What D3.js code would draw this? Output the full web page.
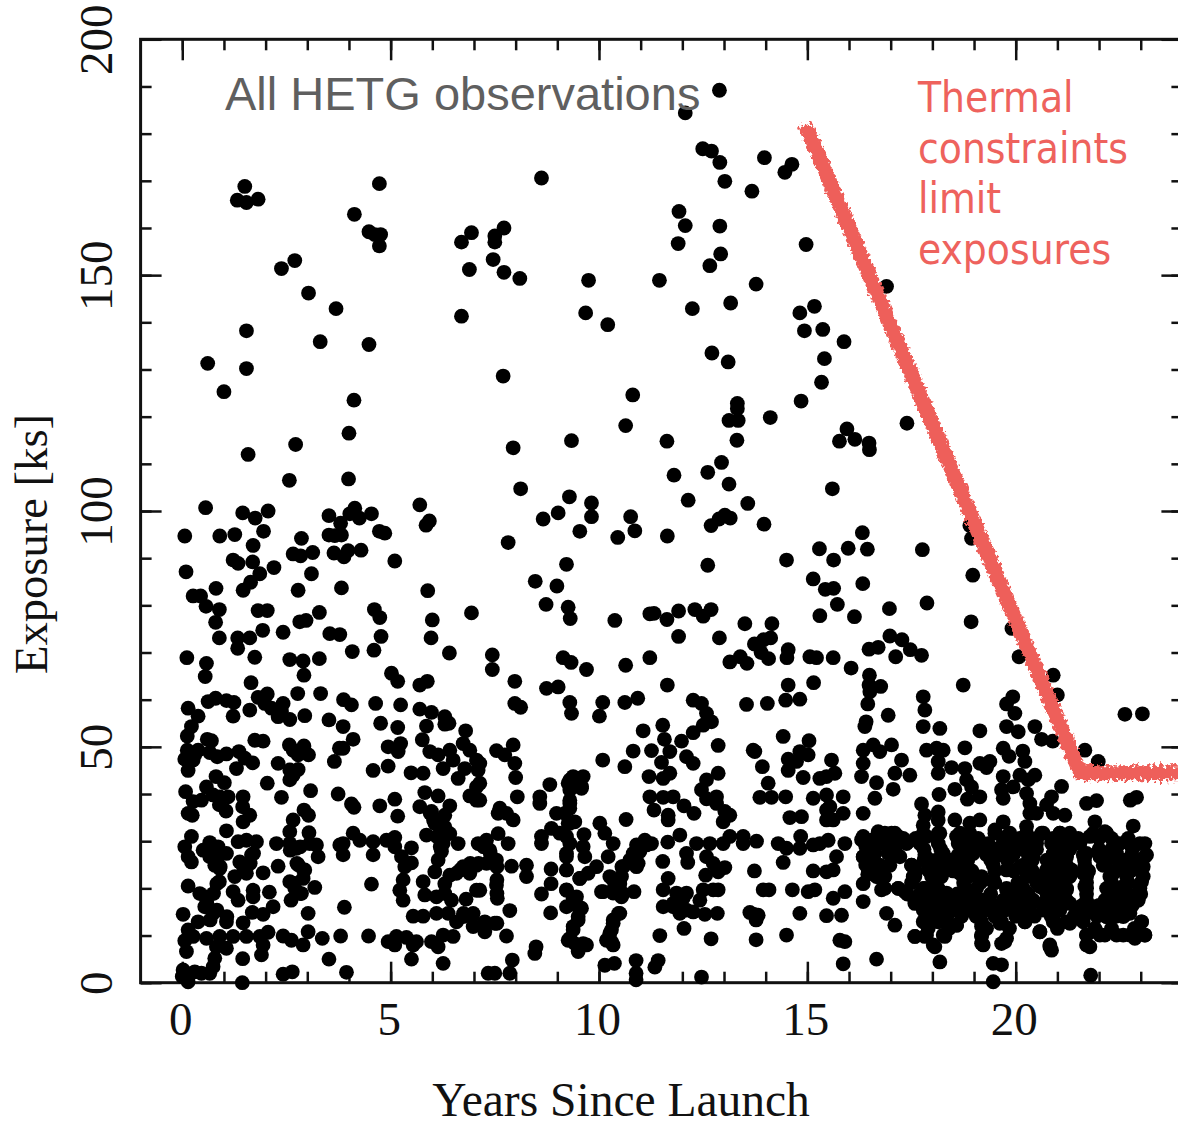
<!DOCTYPE html>
<html>
<head>
<meta charset="utf-8">
<style>
html, body { margin: 0; padding: 0; background: #fff; }
svg { display: block; }
.serif { font-family: "Liberation Serif", serif; fill: #111; }
.axis .domain { display: none; }
.axis line { stroke: #111; stroke-width: 2.5px; }
.axis text { font-family: "Liberation Serif", serif; font-size: 47px; fill: #111; }
</style>
</head>
<body>
<div class="chart"></div>
<script src="https://d3js.org/d3.v7.min.js"></script>
<script>
  // values, one region at a time
  const years = [
    // upper left
    1.50,1.32,1.54,1.82,4.73,4.13,4.48,4.62,4.76,4.73,8.62,6.94,6.70,7.72,7.50,7.50,7.46,6.89,7.72,8.10,
    9.75,9.68,10.21,6.70,2.70,2.38,3.03,3.69,1.54,3.31,4.48,0.61,1.54,1.00,7.70,10.81,10.64,4.12,4.00,9.34,
    7.94,2.72,1.58,2.57,3.99,8.12,9.29,9.82,9.82,5.70,5.93,5.85,0.56,2.06,1.45,1.75,4.14,4.02,4.25,4.54,
    3.52,3.80,8.66,9.02,10.76,10.86,9.54,10.45,0.06,0.90,1.26,1.95,1.70,2.86,3.52,3.66,3.82,4.73,4.86,7.82,
    2.66,2.84,3.13,3.64,3.88,3.98,4.29,5.10,1.22,1.34,1.69,0.09,2.20,1.86,3.10,9.22,8.47,8.99,0.81,1.64,
    1.46,3.82,2.78,5.89,0.26,0.44,0.57,0.89,0.80,1.82,2.04,3.29,4.61,4.74,2.82,2.97,6.00,1.93,2.42,3.54,
    3.78,0.89,1.33,1.62,4.77,5.97,6.94,8.73,9.26,9.31,10.38,11.22,1.33,4.08,4.60,6.41,7.44,7.44,0.11,0.58,
    0.55,1.74,2.58,2.90,3.29,2.92,9.14,9.33,9.70,10.64,11.22,1.65,5.02,5.17,5.70,5.88,7.98,8.74,9.02,
    // upper right
    12.89,12.07,12.49,12.70,12.90,13.02,13.97,13.67,14.63,14.46,11.92,12.07,11.90,12.90,12.92,12.66,14.97,11.45,13.77,16.90,
    12.24,13.16,14.82,15.17,14.93,15.37,15.88,15.41,15.34,14.85,12.71,13.10,13.32,13.32,13.12,13.34,13.31,14.11,17.39,11.63,
    15.95,15.77,16.14,16.48,16.49,12.94,12.61,11.80,13.12,12.14,13.57,15.60,13.02,12.88,12.69,13.15,13.96,11.64,16.32,15.29,
    15.98,16.44,17.76,18.90,18.94,15.63,12.61,14.50,18.97,15.14,15.43,15.63,16.33,15.72,15.30,16.13,16.97,17.87,18.93,19.91,
    20.08,11.32,11.63,11.91,12.30,12.50,12.69,11.91,12.89,13.50,14.15,14.12,13.95,13.73,14.54,14.51,13.89,14.07,13.39,13.14,
    13.55,15.06,15.22,15.62,16.05,16.48,16.70,16.98,17.27,17.47,17.74,17.12,16.49,20.90,21.00,18.74,11.64,14.54,15.15,16.48,16.76,
    // lower left
    0.14,0.38,0.62,0.80,1.06,1.24,1.22,1.62,1.82,2.04,1.98,2.14,2.30,2.42,2.38,2.58,2.77,3.32,2.94,3.52,
    3.87,4.06,3.86,4.64,5.24,4.76,5.17,5.70,5.98,5.86,6.30,6.30,6.40,6.80,0.22,0.12,0.60,0.70,1.74,1.94,
    4.10,3.86,3.77,2.57,2.92,3.03,2.66,2.78,5.76,4.94,5.24,5.18,0.12,0.38,0.06,0.26,0.14,0.30,0.66,0.84,
    1.06,1.36,1.30,1.50,1.69,2.30,3.65,4.58,4.94,5.49,2.58,2.78,2.66,2.58,5.78,5.94,6.14,6.42,6.74,6.90,
    6.26,6.62,6.78,6.50,7.06,7.10,0.81,1.01,2.04,0.08,0.58,0.74,0.46,0.26,0.90,1.10,0.89,1.05,1.46,1.45,
    1.62,1.46,0.14,0.24,2.38,3.08,3.74,4.06,4.12,4.74,5.10,5.17,5.82,6.14,5.70,5.98,6.42,6.30,6.90,7.06,
    7.06,2.92,3.03,2.66,2.58,3.04,1.06,0.22,0.06,0.14,0.22,0.66,0.50,0.66,0.86,1.06,0.78,0.90,1.34,1.54,
    1.78,1.38,1.66,1.54,1.94,1.26,2.26,2.58,2.74,3.06,3.26,3.22,2.30,2.78,2.94,2.90,2.58,2.70,3.18,2.86,
    2.61,0.14,0.42,0.58,0.89,1.22,1.34,1.70,1.70,2.09,2.18,1.94,1.68,3.02,3.89,0.02,0.54,0.74,1.06,0.38,
    0.14,0.26,1.46,0.06,0.10,0.58,0.90,1.22,1.54,1.86,2.06,2.42,2.62,2.90,3.02,3.36,3.80,4.47,0.82,1.06,
    1.94,1.90,1.45,0.78,0.74,0.66,0.30,0.02,0.00,0.14,0.46,1.44,2.42,2.64,3.52,3.94,4.94,5.14,5.10,5.38,
    5.54,5.62,5.98,6.14,6.26,6.50,5.50,6.26,5.54,5.78,6.10,6.38,6.74,6.98,6.58,6.98,6.81,4.54,5.30,5.22,
    5.30,5.78,5.82,6.10,6.30,6.46,6.30,6.42,6.06,6.14,6.22,5.50,5.50,5.34,5.26,5.10,4.90,4.58,4.58,5.10,
    4.10,3.86,3.78,4.26,3.86,5.86,6.06,6.30,6.42,6.26,6.62,6.74,7.06,6.90,6.58,7.10,7.06,
    // lower middle
    7.98,8.12,9.30,9.34,10.09,10.01,10.62,10.93,12.26,12.46,12.58,12.70,12.50,12.26,13.54,14.04,14.48,14.82,7.54,7.74,
    7.94,7.98,8.00,8.04,7.14,7.14,7.14,8.82,8.58,8.58,9.38,9.62,9.26,9.58,9.30,9.30,8.98,9.26,9.42,10.09,
    10.62,10.82,11.06,11.53,11.57,11.26,11.70,11.50,11.98,12.86,12.10,12.26,11.20,11.54,11.70,12.86,12.58,12.46,12.58,12.82,
    12.82,11.22,11.54,11.78,11.32,11.66,11.66,12.04,12.28,13.02,13.14,12.98,7.78,7.58,7.94,7.62,8.86,8.62,8.62,9.64,
    9.62,9.22,9.22,9.22,9.54,10.02,10.14,10.34,10.22,10.65,10.90,11.10,11.26,10.98,10.90,10.58,7.58,7.30,7.82,7.38,
    7.54,7.30,7.90,8.26,8.26,8.85,8.85,8.62,7.54,7.56,7.14,7.86,8.84,7.26,7.50,7.26,7.78,8.49,8.46,7.92,
    7.86,7.34,7.50,9.66,9.94,9.74,9.22,9.46,9.22,9.58,9.50,9.38,9.26,9.50,9.70,9.42,10.34,10.50,10.06,10.34,
    10.54,10.84,10.54,10.50,10.34,10.30,10.18,10.34,10.14,10.37,10.89,10.89,10.89,11.42,11.34,12.46,11.46,12.69,13.77,14.50,
    12.04,11.65,11.94,11.53,12.10,12.13,12.34,12.66,12.98,13.14,13.46,13.46,13.78,12.58,12.74,13.02,12.86,12.56,11.66,11.54,
    11.86,12.10,11.54,11.78,11.94,12.26,12.54,12.84,12.74,12.86,12.50,12.42,13.72,13.82,13.62,13.77,14.82,15.46,13.73,14.08,
    13.94,14.64,15.02,15.18,15.14,15.46,14.42,14.30,14.50,14.82,14.84,15.14,15.30,15.50,14.42,15.04,13.70,13.74,13.92,14.06,
    13.86,14.14,14.48,15.14,14.54,14.82,15.02,14.74,14.54,14.90,15.30,14.58,14.86,15.46,15.46,15.46,15.46,
    // lower right
    16.50,16.45,17.78,17.82,16.94,16.41,16.38,17.78,19.93,19.78,19.98,19.78,20.06,18.18,18.10,17.86,18.26,19.14,20.46,20.62,
    20.89,22.62,23.04,21.66,21.98,16.58,16.34,16.74,17.02,16.34,16.30,16.66,17.26,17.10,17.46,17.06,16.62,16.34,15.86,15.86,
    15.62,15.58,15.66,15.54,18.14,18.14,18.46,18.78,18.78,18.82,18.94,18.54,18.84,19.14,18.16,19.14,19.38,19.30,19.70,19.84,
    20.17,20.22,20.10,20.46,20.30,19.70,19.66,19.94,19.70,20.26,21.10,20.86,20.74,21.70,21.94,22.75,22.90,17.74,17.82,18.14,
    18.14,18.54,18.90,19.14,20.34,20.34,20.50,20.90,21.18,19.70,19.50,20.26,20.62,21.90,22.14,22.82,17.78,16.34,16.70,17.02,
    17.42,15.90,16.58,16.86,17.18,17.86,18.18,18.58,18.90,19.30,19.78,20.18,20.50,21.06,21.30,21.78,22.18,22.42,22.74,23.10,
    15.70,16.34,16.62,16.94,17.22,17.50,17.94,18.26,18.66,18.98,19.46,19.78,20.10,20.42,20.90,21.22,21.70,22.02,22.42,22.66,
    23.10,15.62,16.58,16.86,17.58,17.90,18.66,18.86,19.18,19.46,19.78,20.34,20.74,21.06,21.34,21.62,22.34,22.78,23.06,16.34,
    15.90,16.78,17.18,17.34,17.78,18.10,18.34,18.82,19.22,19.78,20.10,20.58,20.90,21.22,21.66,22.26,22.58,23.02,22.98,15.62,
    16.34,17.58,17.86,18.18,18.50,18.74,18.98,19.26,19.70,20.02,20.34,20.66,20.98,21.30,21.86,22.22,22.62,22.94,15.82,16.90,
    17.10,17.82,18.10,18.58,19.18,19.62,20.22,20.58,20.94,21.30,21.70,22.18,22.74,23.02,15.78,15.90,17.58,17.82,18.30,18.06,
    19.18,19.22,19.66,19.78,20.82,20.86,21.70,21.78,21.94,22.14,22.58,22.86,23.10,15.86,16.66,18.18,19.46,19.66,19.46,21.80
  ];
  const exposures = [
    // upper left
    168.8,165.9,165.4,166.1,169.4,162.9,159.2,158.6,158.6,156.2,170.6,159.0,157.0,160.0,158.3,157.0,153.3,151.2,150.6,149.3,
    148.9,142.0,139.5,141.3,153.1,151.4,146.2,142.9,138.2,135.9,135.3,131.3,130.2,125.3,128.6,124.6,118.1,123.5,116.5,114.9,
    113.4,114.1,112.0,106.5,106.8,104.7,103.0,101.7,98.8,101.3,97.9,97.0,100.7,100.0,99.6,98.5,100.6,99.4,98.5,99.4,
    99.0,97.4,98.3,99.6,98.8,95.8,95.7,94.4,94.7,94.7,95.0,95.7,92.7,94.2,94.9,94.8,94.9,95.7,95.3,93.3,
    90.9,90.5,91.2,91.1,90.3,91.6,91.7,89.4,89.6,88.9,89.2,87.1,88.0,86.7,86.7,88.7,85.1,84.1,83.6,84.9,
    83.2,83.7,83.2,83.1,82.0,82.0,79.8,79.1,76.4,78.9,78.9,78.5,79.1,77.4,76.5,76.8,76.9,74.7,74.3,74.0,
    73.8,73.1,73.1,73.1,73.4,73.1,78.4,80.2,79.6,77.2,76.8,78.2,70.9,70.2,70.5,69.9,69.5,66.4,68.9,67.7,
    64.9,69.0,68.5,68.2,68.7,65.2,68.9,67.9,66.4,67.3,68.9,63.6,65.6,63.9,63.1,63.9,63.9,62.4,62.7,
    // upper right
    189.2,184.4,176.8,176.3,173.9,169.9,174.9,167.8,173.5,171.8,163.5,160.5,156.7,160.4,154.5,152.0,156.5,148.9,148.1,147.6,
    142.9,144.1,142.0,143.4,138.2,138.5,135.9,132.3,127.3,123.3,133.5,131.6,122.8,121.7,119.2,119.2,115.0,119.8,118.6,114.8,
    117.4,114.8,115.2,114.4,113.0,110.3,108.2,107.6,105.7,102.3,101.6,104.7,99.1,98.3,96.9,98.5,97.2,94.7,95.4,92.0,
    92.1,91.9,91.8,96.9,94.2,89.6,88.5,89.6,86.4,85.6,83.4,83.6,84.6,80.2,77.8,77.6,79.3,80.5,76.5,75.1,
    69.1,78.3,77.0,78.8,79.1,77.7,79.1,73.4,73.1,76.1,76.1,73.1,72.7,71.8,70.6,68.9,70.0,68.7,69.1,68.0,
    67.7,69.1,68.9,68.9,66.7,70.7,71.1,73.5,72.7,70.6,69.4,69.1,65.2,65.2,61.0,63.1,63.1,63.1,63.6,63.1,62.8,
    // lower left
    58.2,56.5,59.6,60.3,59.8,59.4,56.5,57.8,60.5,61.2,59.2,58.2,56.4,59.2,57.5,55.8,61.3,61.3,56.6,55.7,
    60.0,58.9,54.3,59.2,58.9,55.0,54.1,58.0,57.3,54.4,56.4,54.8,55.0,53.4,54.3,52.3,51.6,51.3,51.4,51.2,
    51.6,49.7,49.7,50.4,50.2,48.3,49.3,48.3,51.5,50.0,50.7,49.0,49.3,49.3,47.4,47.2,45.0,48.3,48.8,47.9,
    48.5,49.0,45.4,47.6,46.6,46.5,46.9,45.0,45.9,44.5,45.1,45.2,44.0,43.0,44.4,49.0,48.3,49.3,50.7,49.3,
    45.4,43.3,45.4,47.2,47.2,45.1,43.7,42.4,42.3,40.5,41.5,39.8,38.7,38.4,39.4,39.4,37.7,36.4,39.4,37.3,
    35.5,34.1,35.9,35.5,39.3,40.7,40.0,37.9,37.2,37.5,38.9,35.3,40.3,39.6,37.3,36.3,37.5,35.5,39.6,41.5,
    38.7,36.6,35.5,34.5,32.0,31.8,32.2,31.0,28.8,26.7,25.6,29.7,28.1,26.7,28.8,27.4,24.9,24.2,29.9,30.2,
    29.9,25.6,27.1,23.2,23.3,22.5,29.5,29.5,28.5,29.5,26.7,29.2,24.7,25.0,23.9,22.1,21.4,20.0,20.2,18.9,
    17.5,20.5,18.9,18.2,21.4,19.3,17.5,19.6,18.2,19.2,16.1,14.5,14.9,14.7,16.0,14.5,16.1,14.7,12.9,12.9,
    11.2,9.8,12.7,8.9,6.6,9.4,9.8,9.8,9.8,9.8,10.7,9.9,9.0,8.0,10.8,9.4,9.9,9.9,7.6,7.3,
    8.0,5.9,5.1,5.2,3.4,2.0,2.3,2.7,1.3,0.2,2.0,0.0,1.8,2.3,5.0,2.2,8.7,9.8,8.0,9.6,
    8.0,8.7,8.7,7.6,10.1,9.8,5.0,4.1,14.1,14.1,14.7,14.7,14.0,14.7,12.9,11.9,17.7,20.9,21.8,19.6,
    17.5,21.4,18.6,18.2,18.9,17.5,21.0,22.8,23.5,26.0,27.8,28.6,25.4,24.6,26.7,28.8,30.2,27.1,29.9,30.8,
    31.7,29.5,29.2,30.2,27.1,31.3,33.8,33.0,31.6,29.5,29.5,24.6,24.9,23.2,23.2,29.5,19.6,
    // lower middle
    59.2,58.4,59.4,57.1,59.4,56.5,59.4,60.3,59.9,59.2,57.1,55.3,54.6,53.0,59.0,59.2,59.9,60.1,49.2,48.3,
    50.4,46.5,43.5,39.4,46.5,42.3,38.7,42.0,39.4,38.0,43.7,43.7,42.3,41.2,38.7,37.0,35.9,33.8,34.1,47.2,
    45.8,49.1,53.4,54.6,51.6,49.2,49.0,46.7,51.2,50.3,47.9,46.5,43.7,43.3,44.4,44.4,43.0,40.9,39.0,39.4,
    38.0,39.4,39.3,39.4,36.6,35.5,34.5,37.5,35.9,36.3,35.5,34.1,35.9,35.9,34.5,37.0,32.7,31.0,29.5,31.4,
    28.8,31.0,27.4,23.9,22.1,33.8,31.7,29.5,26.7,34.6,29.2,30.2,29.5,27.8,24.6,24.6,31.6,30.2,29.5,28.1,
    26.0,25.3,24.7,24.9,22.5,24.1,21.0,18.8,20.7,17.9,19.6,15.3,14.8,12.9,12.6,10.8,9.9,7.6,6.2,4.8,
    2.0,2.0,2.0,26.7,24.6,23.2,19.6,18.2,16.1,15.8,13.3,11.2,9.0,6.6,8.0,8.3,21.8,21.0,19.3,19.0,
    18.2,19.3,22.5,14.7,13.3,11.2,9.0,8.0,3.7,4.1,4.7,2.0,0.6,4.7,3.3,1.2,10.0,9.3,9.1,10.1,
    11.5,29.8,31.3,25.7,27.4,25.5,29.5,29.5,29.5,31.0,31.0,29.5,30.0,26.7,25.3,24.4,23.5,22.8,22.1,19.7,
    19.0,19.0,16.1,16.1,14.7,15.0,14.5,14.7,19.7,19.7,19.7,17.5,14.5,14.3,14.9,13.3,14.7,14.2,23.7,19.7,
    19.7,19.7,19.3,19.7,23.7,23.5,25.5,29.5,28.5,28.5,31.0,29.2,29.5,30.2,52.2,51.3,49.3,49.0,45.8,42.3,
    39.3,39.3,39.4,39.1,47.4,49.0,48.3,46.9,45.0,43.5,43.3,35.0,35.2,43.7,39.8,36.6,34.5,
    // lower right
    61.7,59.1,60.6,57.8,56.7,55.3,54.3,54.3,60.6,59.1,57.1,54.3,53.2,53.9,49.7,49.3,49.3,53.4,54.3,51.6,
    51.2,56.9,57.0,49.3,46.9,50.4,49.3,49.0,50.4,46.5,43.7,42.4,47.2,44.4,44.0,41.0,39.1,35.9,39.4,35.9,
    34.5,47.2,44.4,37.3,46.9,44.4,45.6,49.8,45.4,43.0,41.5,41.0,38.9,39.4,39.9,46.5,46.9,45.6,49.7,48.0,
    49.1,46.9,44.0,44.0,43.0,43.7,40.9,41.5,39.1,40.1,41.6,39.4,37.7,38.0,38.6,38.7,39.3,37.9,35.5,36.2,
    34.5,34.5,33.8,34.5,38.0,35.9,35.9,35.9,35.5,34.1,32.4,33.1,31.7,34.1,32.0,33.2,33.4,31.0,32.0,31.7,
    29.9,29.5,30.2,30.2,31.0,31.0,31.7,31.0,29.5,28.8,31.0,30.2,29.5,31.7,31.0,31.0,31.7,29.5,29.5,29.5,
    26.7,26.7,27.4,27.4,26.7,24.9,26.0,27.4,26.7,27.4,26.7,27.4,24.6,26.7,27.4,26.7,27.4,26.7,27.4,26.0,
    26.7,23.9,23.9,22.5,22.5,23.9,23.2,22.5,22.5,21.8,23.9,23.9,23.9,22.5,23.9,23.2,23.2,23.9,24.6,21.0,
    19.3,19.7,20.0,19.3,20.0,20.4,19.0,19.7,17.5,19.7,19.0,20.4,20.4,19.7,20.4,19.7,20.4,21.4,19.0,17.9,
    17.2,16.8,16.1,16.8,17.5,16.1,15.4,15.4,16.1,16.8,16.1,16.8,16.1,16.8,16.1,16.8,16.8,17.5,14.3,14.7,
    12.2,13.3,14.0,12.2,11.9,12.6,12.9,10.8,12.9,12.6,14.7,14.0,14.7,12.9,9.0,8.7,9.8,9.8,9.8,7.6,
    9.8,8.0,8.3,9.4,7.6,6.9,10.1,7.6,10.8,10.1,10.1,9.4,10.1,4.0,5.0,4.4,4.1,3.8,0.2,1.6
  ];

  // second pass over the crowded parts, each line has the same count in both arrays
  const crowdedYears = [
    16.86,17.10,17.78,18.14,18.66,18.90,19.50,19.86,20.26,20.66,21.06,21.30,21.86,22.18,
    16.74,16.98,17.38,17.70,18.14,18.62,18.86,19.34,19.70,20.02,20.30,20.86,21.18,21.54,22.50,22.98,
    17.06,17.82,18.22,18.62,18.90,19.30,19.62,19.94,20.30,20.90,21.22,21.62,22.02,22.34,22.78,23.14,
    16.74,16.98,17.50,17.94,18.26,18.66,19.46,20.18,20.94,21.22,21.66,22.10,22.50,22.90,
    17.54,17.98,18.22,18.74,19.06,19.46,20.26,20.58,20.98,21.30,21.70,22.26,22.66,23.06,
    16.86,17.18,17.82,18.14,18.78,19.06,19.78,20.18,20.66,20.86,21.22,21.70,22.18,22.58,22.98,
    17.58,17.86,18.18,18.46,18.78,19.22,19.70,20.06,20.42,20.90,21.22,21.70,22.14,22.50,22.90,
    17.78,18.18,18.54,18.86,19.30,19.74,20.18,20.66,21.06,21.46,21.78,22.18,22.58,
    17.78,18.14,18.58,19.18,19.66,20.22,20.90,21.22,21.62,22.18,22.58,23.02,
    17.58,17.86,18.26,19.18,19.74,20.58,21.70,22.02,22.42,22.74,23.10,
    18.02,19.18,20.82,21.70,
    16.40,16.60,16.40,16.62,16.45,16.70,
    9.30,9.46,9.58,9.30,9.30,9.18,9.30,9.06,9.30,9.22,9.22,9.54,9.22,9.38,9.50,9.50,9.38,9.30,9.62,
    10.26,10.50,10.10,10.34,10.58,10.47,10.34,10.26,10.30,10.55,10.82,10.98,10.74,10.94,11.14,
    11.78,11.94,12.10,12.02,16.30,16.58,16.58,16.46,16.66,16.34,
    2.59,2.83,2.75,2.91,2.67,2.83,7.23,7.39,7.55,7.55,7.55,6.91,6.67,7.11,
    0.83,0.91,0.75,1.63,1.71,1.47,0.83,1.07,0.67,0.59,0.83,0.75,
    6.75,6.95,7.23,7.55,6.03,6.19,5.95,6.11,6.19,
    17.30,17.60,18.70,19.10,19.70,20.10,20.50,20.90,21.50,22.00,22.30,22.70,
    17.10,17.80,18.20,18.70,19.10,19.50,19.80,20.10,20.50,21.10,21.30,22.00,22.30,22.80,
    17.80,18.10,18.45,18.85,19.40,19.80,20.40,20.75,21.10,21.65,22.20,22.55,22.90,
    17.60,18.10,18.50,18.95,19.50,19.95,20.40,20.80,21.15,21.75,22.40,22.75,
    17.50,18.05,18.75,19.15,19.50,20.05,20.50,20.85,21.15,21.70,22.30,22.70,
    17.40,17.70,18.05,18.60,18.95,19.40,19.90,20.30,20.75,21.10,21.70,22.30,22.70,23.00,
    18.00,18.35,18.65,19.05,19.50,19.95,20.30,20.80,21.10,21.60,22.00,22.40,22.80,
    17.95,18.35,18.70,19.05,19.50,20.00,20.45,20.85,21.40,21.95,22.40,
    17.90,18.40,19.30,19.85,21.00,21.90,22.30,22.85
  ];
  const crowdedExposures = [
    31.7,31.7,31.7,31.7,31.7,31.7,31.7,31.7,31.7,31.7,31.7,31.7,31.7,31.7,
    29.5,29.5,29.5,29.5,29.5,29.5,29.5,29.5,29.5,29.5,29.5,29.5,29.5,29.5,29.5,29.5,
    27.1,27.1,27.1,27.1,27.1,27.1,27.1,27.1,27.1,27.1,27.1,27.1,27.1,27.1,27.1,27.1,
    24.9,24.9,24.9,24.9,24.9,24.9,24.9,24.9,24.9,24.9,24.9,24.9,24.9,24.9,
    22.5,22.5,22.5,22.5,22.5,21.4,22.5,22.5,22.5,22.5,22.5,22.5,22.5,22.5,
    20.0,20.0,20.0,20.0,20.0,20.0,20.0,20.0,20.0,20.0,20.0,20.0,20.0,20.0,20.0,
    17.5,17.5,17.5,17.5,17.5,17.5,17.5,17.5,17.5,17.5,17.5,17.5,17.5,17.5,17.5,
    15.4,15.4,15.4,15.4,15.4,15.4,15.4,15.4,15.4,15.4,15.4,15.4,15.4,
    12.9,12.9,12.2,12.9,12.9,12.9,12.9,12.9,12.9,14.0,14.0,12.9,
    9.8,10.1,10.1,10.1,8.7,10.8,10.1,10.1,10.1,10.1,10.1,
    8.0,8.3,8.0,8.0,
    29.0,28.0,25.0,25.5,23.0,22.5,
    43.0,43.0,41.6,40.9,38.0,35.9,33.8,31.7,29.5,26.7,23.9,22.1,19.7,17.9,16.1,14.0,11.9,9.4,8.3,
    22.5,21.8,19.3,19.7,18.9,14.7,12.6,10.5,8.7,24.6,27.4,28.1,26.0,25.3,29.2,
    16.8,15.4,15.4,17.9,30.3,30.3,26.7,23.9,22.5,26.7,
    28.1,28.8,25.3,23.9,21.1,18.9,28.8,27.4,24.6,21.8,18.9,25.3,23.9,25.3,
    26.0,24.6,28.1,25.3,27.4,24.6,15.4,14.0,13.3,16.8,21.0,18.9,
    14.7,14.0,11.9,12.6,34.5,33.1,35.9,31.0,28.8,
    30.6,30.6,30.6,30.6,30.6,30.6,30.6,30.6,30.6,30.6,30.6,30.6,
    28.3,28.3,28.3,28.3,28.3,28.3,28.3,28.3,28.3,28.3,28.3,28.3,28.3,28.3,
    26.0,26.0,26.0,26.0,26.0,26.0,26.0,26.0,26.0,26.0,26.0,26.0,26.0,
    23.7,23.7,23.7,23.7,23.7,23.7,23.7,23.7,23.7,23.7,23.7,23.7,
    21.2,21.2,21.2,21.2,21.2,21.2,21.2,21.2,21.2,21.2,21.2,21.2,
    18.8,18.8,18.8,18.8,18.8,18.8,18.8,18.8,18.8,18.8,18.8,18.8,18.8,18.8,
    16.4,16.4,16.4,16.4,16.4,16.4,16.4,16.4,16.4,16.4,16.4,16.4,16.4,
    14.1,14.1,14.1,14.1,14.1,14.1,14.1,14.1,14.1,14.1,14.1,
    11.5,11.5,11.5,11.5,11.5,11.5,11.5,11.5
  ];

  // thermal limit drawn in red
  const limitYears = [14.96, 21.55, 24];
  const limitExposures = [181.8, 44.5, 44.5];

  const xMajorTicks = [0, 5, 10, 15, 20];
  const xMinorTicks = d3.range(0, 24);
  const yMajorTicks = [0, 50, 100, 150, 200];
  const yMinorTicks = d3.range(0, 200, 10);
  const noteLines = ['Thermal', 'constraints', 'limit', 'exposures'];

  if (years.length !== exposures.length) throw new Error('length mismatch ' + years.length + ' ' + exposures.length);
  if (crowdedYears.length !== crowdedExposures.length) throw new Error('length mismatch ' + crowdedYears.length + ' ' + crowdedExposures.length);

  const svgWidth = 1178, svgHeight = 1126;
  const plotLeft = 140.6, plotRight = 1182.4, plotTop = 39.3, plotBottom = 982.7;

  const svg = d3.select('.chart').append('svg')
    .attr('width', svgWidth)
    .attr('height', svgHeight);

  const xScale = d3.scaleLinear().domain([-1, 24]).range([plotLeft, plotRight]);
  const yScale = d3.scaleLinear().domain([0, 200]).range([plotBottom, plotTop]);

  // rough edge of the red band
  const rough = svg.append('defs').append('filter')
    .attr('id', 'rough')
    .attr('filterUnits', 'userSpaceOnUse')
    .attr('x', 0).attr('y', 0)
    .attr('width', svgWidth).attr('height', svgHeight);
  rough.append('feTurbulence')
    .attr('type', 'fractalNoise')
    .attr('baseFrequency', 0.3)
    .attr('numOctaves', 3)
    .attr('seed', 4)
    .attr('result', 'noise');
  rough.append('feDisplacementMap')
    .attr('in', 'SourceGraphic')
    .attr('in2', 'noise')
    .attr('scale', 14);

  // frame
  svg.append('rect')
    .attr('x', plotLeft).attr('y', plotTop)
    .attr('width', plotRight - plotLeft).attr('height', plotBottom - plotTop)
    .attr('fill', 'none')
    .attr('stroke', '#111')
    .attr('stroke-width', 3);

  // tick marks, inward on all four sides
  const minorLen = 11, majorLen = 21;
  const addAxis = (axis, dx, dy) => svg.append('g')
    .attr('class', 'axis')
    .attr('transform', `translate(${dx}, ${dy})`)
    .call(axis);

  addAxis(d3.axisBottom(xScale).tickValues(xMinorTicks).tickSize(-minorLen).tickFormat(''), 0, plotBottom);
  addAxis(d3.axisTop(xScale).tickValues(xMinorTicks).tickSize(-minorLen).tickFormat(''), 0, plotTop);
  addAxis(d3.axisLeft(yScale).tickValues(yMinorTicks).tickSize(-minorLen).tickFormat(''), plotLeft, 0);
  addAxis(d3.axisRight(yScale).tickValues(yMinorTicks).tickSize(-minorLen).tickFormat(''), plotRight, 0);
  addAxis(d3.axisTop(xScale).tickValues(xMajorTicks).tickSize(-majorLen).tickFormat(''), 0, plotTop);
  addAxis(d3.axisRight(yScale).tickValues(yMajorTicks).tickSize(-majorLen).tickFormat(''), plotRight, 0);

  const xLabels = addAxis(d3.axisBottom(xScale).tickValues(xMajorTicks).tickSize(-majorLen).tickFormat(d => d), 0, plotBottom);
  xLabels.selectAll('text').attr('x', -2).attr('y', 52).attr('dy', null);

  const yLabels = addAxis(d3.axisLeft(yScale).tickValues(yMajorTicks).tickSize(-majorLen).tickFormat(d => d), plotLeft, 0);
  yLabels.selectAll('text')
    .attr('x', null).attr('dy', null)
    .attr('text-anchor', 'middle')
    .attr('transform', 'translate(-29, 0) rotate(-90)');

  // observations
  const allYears = years.concat(crowdedYears);
  const allExposures = exposures.concat(crowdedExposures);
  svg.append('g')
    .selectAll('circle')
    .data(allYears.map((d, i) => [d, allExposures[i]]))
    .join('circle')
    .attr('cx', d => xScale(d[0]))
    .attr('cy', d => yScale(d[1]))
    .attr('r', 7.4)
    .attr('fill', '#000');

  // thermal limit
  const limitLine = d3.line()
    .x(d => xScale(d[0]))
    .y(d => yScale(d[1]));
  svg.append('path')
    .attr('d', limitLine(limitYears.map((d, i) => [d, limitExposures[i]])))
    .attr('fill', 'none')
    .attr('stroke', '#ee5f5a')
    .attr('stroke-width', 15)
    .attr('stroke-linejoin', 'miter')
    .attr('filter', 'url(#rough)');

  // labels
  svg.append('text')
    .attr('class', 'serif')
    .attr('x', 621).attr('y', 1116)
    .attr('text-anchor', 'middle')
    .attr('font-size', 47.5)
    .text('Years Since Launch');

  svg.append('text')
    .attr('class', 'serif')
    .attr('transform', 'translate(47, 544) rotate(-90)')
    .attr('text-anchor', 'middle')
    .attr('font-size', 46.6)
    .text('Exposure [ks]');

  svg.append('text')
    .attr('x', 225).attr('y', 110)
    .attr('font-family', '"Liberation Sans", sans-serif')
    .attr('font-size', 47)
    .attr('fill', '#5f5f5f')
    .text('All HETG observations');

  svg.append('g')
    .selectAll('text')
    .data(noteLines)
    .join('text')
    .attr('x', 918)
    .attr('y', (d, i) => 112 + i * 50.7)
    .attr('font-family', '"DejaVu Sans Condensed", "DejaVu Sans", sans-serif')
    .attr('font-stretch', 'condensed')
    .attr('font-size', 42)
    .attr('fill', '#ee625d')
    .text(d => d);
</script>
</body>
</html>
